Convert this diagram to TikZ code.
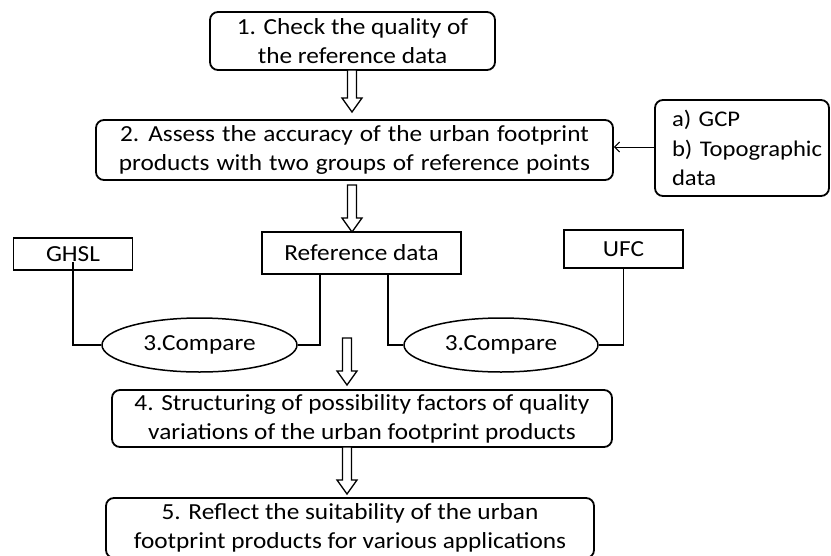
\documentclass[tikz,border=0pt]{standalone}
\usepackage{fontspec}
\setmainfont{Carlito}[FakeStretch=1.1]
\usetikzlibrary{shapes.geometric,arrows.meta,calc}
\newcommand\widesp{\spaceskip=7pt plus 1pt minus 1pt\relax}
\tikzset{
  txt/.style={font=\fontsize{23}{29}\selectfont},
  rbox/.style={draw, line width=1.8pt, rounded corners=8pt, align=center, inner sep=0pt, txt},
  sbox/.style={draw, line width=1.8pt, align=center, inner sep=0pt, txt},
  ell/.style={draw, line width=1.5pt, ellipse, inner sep=0pt, txt},
  conn/.style={line width=1.5pt},
  harrowst/.style={draw, line width=1.3pt, fill=white, line join=miter},
}
\newcommand\harr[2]{\draw[harrowst] let \p1=(#1), \p2=(#2) in
  (\x1-4.5pt,\y1) -- (\x1-4.5pt,\y2+14pt) -- (\x1-10pt,\y2+14pt) -- (\x1,\y2)
  -- (\x1+10pt,\y2+14pt) -- (\x1+4.5pt,\y2+14pt) -- (\x1+4.5pt,\y1) -- cycle;}
\begin{document}
\begin{tikzpicture}[x=1pt,y=-1pt]
\useasboundingbox (0,0) rectangle (831,555);
\node[rbox, minimum width=285pt, minimum height=58pt] (b1) at (352.5,41) {1. Check the quality of\\the reference data};
\node[rbox, minimum width=517pt, minimum height=60pt] (b2) at (354.5,150) {\widesp 2. Assess the accuracy of the urban footprint\\\widesp products with two groups of reference points};
\node[rbox, minimum width=174pt, minimum height=96pt, text width=150pt, align=left, font=\fontsize{22.4}{29.5}\selectfont] (ab) at (742,148) {\hspace*{5pt}\mbox{a) GCP}\\\hspace*{5pt}\mbox{b) Topographic}\\\hspace*{5pt}\mbox{data}};
\node[sbox, minimum width=119pt, minimum height=32pt] (ghsl) at (73,254) {GHSL};
\node[sbox, minimum width=199pt, minimum height=42pt] (ref) at (361.5,253) {Reference data};
\node[sbox, minimum width=119pt, minimum height=38pt] (ufc) at (623.5,249) {UFC};
\node[ell, minimum width=195pt, minimum height=54pt] (c1) at (199.5,345) {3.Compare};
\node[ell, minimum width=194pt, minimum height=54pt] (c2) at (501,345) {3.Compare};
\node[rbox, minimum width=500pt, minimum height=57pt] (b4) at (362,418.5) {4. Structuring of possibility factors of quality\\variations of the urban footprint products};
\node[rbox, minimum width=488pt, minimum height=60pt] (b5) at (350,528) {5. Reflect the suitability of the urban\\footprint products for various applications};
% connectors
\coordinate (g0) at (73,262);
\draw[conn] (g0) |- (c1.west);
\draw[conn] (ref.south -| 320,0) |- (c1.east);
\draw[conn] (ref.south -| 388,0) |- (c2.west);
\draw[conn] (ufc.south) |- (c2.east);
\draw[line width=1pt, -{Straight Barb[length=5pt,width=10pt]}] (ab.west |- 0,147) -- (b2.east |- 0,147);
% hollow arrows
\coordinate (a1s) at (352,70); \coordinate (a1e) at (352,112);
\coordinate (a2s) at (352,185); \coordinate (a2e) at (352,232);
\coordinate (a3s) at (347,338); \coordinate (a3e) at (347,385);
\coordinate (a4s) at (347,447); \coordinate (a4e) at (347,494);
\harr{a1s}{a1e}
\harr{a2s}{a2e}
\harr{a3s}{a3e}
\harr{a4s}{a4e}
\end{tikzpicture}
\end{document}
